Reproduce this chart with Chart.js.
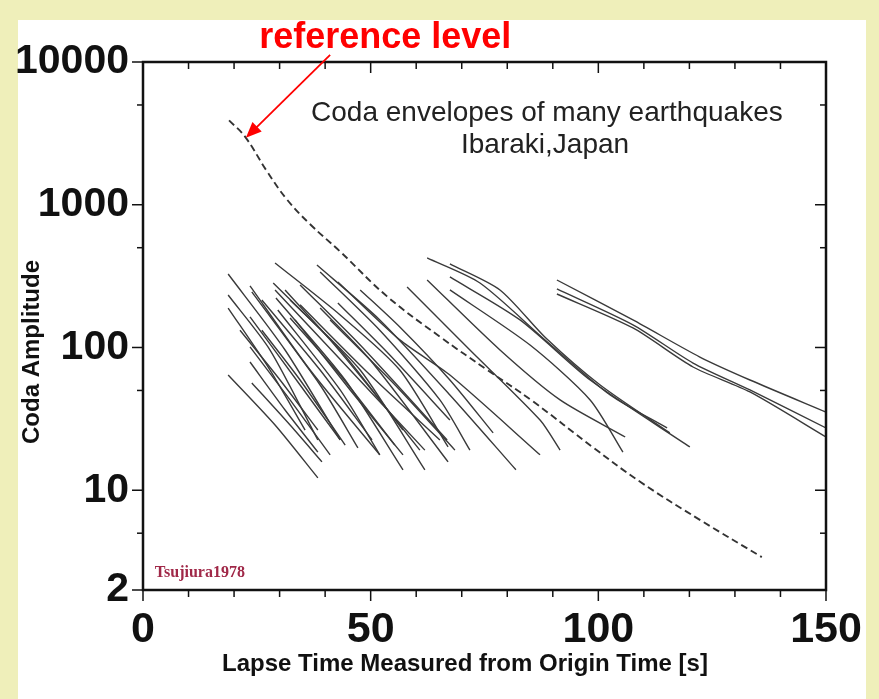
<!DOCTYPE html>
<html>
<head>
<meta charset="utf-8">
<script src="https://cdn.jsdelivr.net/npm/chart.js@4.4.1/dist/chart.umd.min.js"></script>
<style>
  html, body { margin: 0; padding: 0; }
  body { width: 879px; height: 699px; background: #efefba; position: relative; overflow: hidden; }
  #paper { position: absolute; left: 18px; top: 20px; right: 13px; bottom: 0; background: #fff; }
  #chart { position: absolute; left: 0; top: 0; }
</style>
</head>
<body>
<div id="paper"></div>
<canvas id="chart" width="879" height="699"></canvas>
<script>
// Axis ticks
const xTicks = [0, 10, 20, 30, 40, 50, 60, 70, 80, 90, 100, 110, 120, 130, 140, 150];
const xMajor = [0, 50, 100, 150];
const yTicks = [2, 5, 10, 50, 100, 500, 1000, 5000, 10000];
const yMajor = [2, 10, 100, 1000, 10000];

// Reference level (dashed), [lapse time s, amplitude]
const referenceLevel = [[18.9, 3900], [22.4, 3000], [27.2, 1720], [31.6, 1090], [36.7, 730], [43.3, 470],
    [53.6, 228], [65.2, 119], [75.5, 70], [85.6, 42], [98.8, 20], [109.1, 11.5], [122.3, 6.2], [135.9, 3.4]];

// Coda envelopes
const envA1 = [[18.7, 327], [31.2, 96], [43.3, 22.5]];
const envA2 = [[18.7, 233], [27.9, 96], [38.4, 22.5]];
const envA3 = [[18.7, 189], [27.9, 69.5], [35.6, 26.4]];
const envA4 = [[18.7, 64.1], [29.0, 28.6], [38.4, 12.2]];
const envA5 = [[21.3, 132], [30.1, 59.2], [38.4, 26.4]];
const envB1 = [[23.5, 270], [36.7, 69.5], [52.0, 17.7]];
const envB2 = [[23.9, 245], [38.9, 54.6], [47.2, 19.8]];
const envB3 = [[23.5, 164], [34.5, 54.6], [43.3, 22.5]];
const envB4 = [[23.5, 101], [32.3, 42.9], [41.1, 17.7]];
const envB5 = [[23.5, 79.1], [31.2, 36.5], [38.4, 18.5]];
const envB6 = [[23.9, 56.4], [32.3, 28.6], [39.3, 15.8]];
const envC1 = [[28.6, 283], [43.3, 96], [57.1, 26.4]];
const envC2 = [[29.0, 253], [45.5, 69.5], [61.9, 19.1]];
const envC3 = [[29.2, 222], [44.4, 59.2], [57.1, 13.9]];
const envC4 = [[29.6, 183], [43.3, 50.4], [52.0, 17.7]];
const envC5 = [[29.0, 391], [43.3, 169], [56.4, 69.5], [67.0, 20.1]];
const envC6 = [[32.3, 215], [47.7, 69.5], [61.9, 13.9]];
const envC7 = [[33.4, 156], [45.5, 50.4], [57.1, 17.7]];
const envC8 = [[31.2, 253], [41.1, 113], [52.0, 42.9], [60.8, 19.1]];
const envD1 = [[38.2, 378], [52.0, 156], [67.4, 46.5], [81.9, 13.9]];
const envD2 = [[38.9, 338], [52.0, 132], [65.2, 42.9], [71.8, 19.1]];
const envD3 = [[42.8, 288], [56.4, 113], [67.4, 64.1], [87.2, 17.7]];
const envD4 = [[42.8, 205], [54.2, 88.5], [67.4, 31.0]];
const envD5 = [[38.9, 189], [49.9, 81.7], [67.0, 15.8]];
const envD6 = [[34.5, 274], [47.7, 104], [60.8, 36.5], [66.8, 22.5]];
const envE1 = [[58.0, 265], [71.8, 96], [87.2, 31.0], [91.6, 19.1]];
const envE2 = [[62.4, 297], [78.4, 96], [91.6, 42.9], [105.9, 23.6]];
const envE3 = [[62.4, 424], [74.0, 283], [88.3, 113], [102.6, 46.5], [115.1, 27.3]];
const envE4 = [[67.4, 385], [78.4, 253], [88.3, 118], [100.4, 54.6], [115.7, 25.2]];
const envE5 = [[67.4, 312], [82.8, 156], [98.2, 59.2], [120.1, 20.1]];
const envE6 = [[67.4, 253], [85.0, 104], [98.2, 42.9], [105.4, 18.5]];
const envF1 = [[90.9, 297], [107.6, 156], [122.3, 85.7], [133.3, 59.2], [150, 35.3]];
const envF2 = [[90.9, 257], [107.6, 144], [120.8, 77.8], [133.3, 50.4], [150, 27.3]];
const envF3 = [[90.9, 237], [107.6, 137], [120.8, 73.0], [133.3, 48.8], [150, 23.6]];
const envG1 = [[26.1, 215], [38.9, 69.5], [50.3, 22.5]];
const envG2 = [[34.5, 199], [49.9, 64.1], [65.2, 22.5]];
const envG3 = [[41.1, 156], [56.4, 50.4], [68.5, 19.1]];
const envG4 = [[47.7, 253], [56.4, 139], [67.4, 59.2], [76.9, 25.2]];
const envG5 = [[26.1, 132], [34.5, 59.2], [44.4, 20.7]];
const envG6 = [[32.3, 161], [43.3, 64.1], [55.3, 20.7]];

const envelopes = [envA1, envA2, envA3, envA4, envA5, envB1, envB2, envB3, envB4, envB5, envB6,
    envC1, envC2, envC3, envC4, envC5, envC6, envC7, envC8, envD1, envD2, envD3, envD4, envD5, envD6,
    envE1, envE2, envE3, envE4, envE5, envE6, envF1, envF2, envF3,
    envG1, envG2, envG3, envG4, envG5, envG6];

const toPoints = arr => arr.map(p => ({ x: p[0], y: p[1] }));

const datasets = envelopes.map(env => ({
    data: toPoints(env),
    borderColor: '#3a3a3a',
    borderWidth: 1.4,
    tension: 0.25,
    pointRadius: 0
}));
datasets.push({
    data: toPoints(referenceLevel),
    borderColor: '#333',
    borderWidth: 1.9,
    borderDash: [7, 4],
    tension: 0.4,
    pointRadius: 0
});

// Frame, ticks, titles and annotations
const overlay = {
    id: 'overlay',
    afterDraw(chart) {
        const { ctx, chartArea: a, scales: { x, y } } = chart;
        const seg = (x1, y1, x2, y2) => { ctx.beginPath(); ctx.moveTo(x1, y1); ctx.lineTo(x2, y2); ctx.stroke(); };
        ctx.save();
        ctx.strokeStyle = '#111';
        ctx.lineWidth = 2.5;
        ctx.strokeRect(a.left, a.top, a.right - a.left, a.bottom - a.top);
        ctx.lineWidth = 1.5;
        xTicks.forEach(v => {
            const px = x.getPixelForValue(v);
            const len = xMajor.includes(v) ? 11 : 7;
            seg(px, a.bottom, px, a.bottom + len);
            seg(px, a.top, px, a.top + len);
        });
        yTicks.forEach(v => {
            const py = y.getPixelForValue(v);
            const len = yMajor.includes(v) ? 11 : 6;
            seg(a.left - len, py, a.left, py);
            seg(a.right - len, py, a.right, py);
        });

        // axis titles
        ctx.fillStyle = '#111';
        ctx.font = 'bold 24px "Liberation Sans", Arial, sans-serif';
        ctx.textAlign = 'center';
        ctx.textBaseline = 'middle';
        ctx.fillText('Lapse Time Measured from Origin Time [s]', 465, 664);
        ctx.save();
        ctx.translate(32, 352);
        ctx.rotate(-Math.PI / 2);
        ctx.fillText('Coda Amplitude', 0, 0);
        ctx.restore();

        // caption
        ctx.font = '28px "Liberation Sans", Arial, sans-serif';
        ctx.fillStyle = '#222';
        ctx.fillText('Coda envelopes of many earthquakes', x.getPixelForValue(88.7), y.getPixelForValue(4400));
        ctx.fillText('Ibaraki,Japan', x.getPixelForValue(88.3), y.getPixelForValue(2600));

        // source note
        ctx.font = 'bold 16px "Liberation Serif", "Times New Roman", serif';
        ctx.fillStyle = '#a02848';
        ctx.textAlign = 'left';
        ctx.fillText('Tsujiura1978', x.getPixelForValue(2.6), y.getPixelForValue(2.65));

        // reference level label and arrow
        ctx.font = 'bold 36px "Liberation Sans", Arial, sans-serif';
        ctx.fillStyle = '#f00';
        ctx.textAlign = 'center';
        ctx.fillText('reference level', x.getPixelForValue(53.2), y.getPixelForValue(14800));
        const tx = x.getPixelForValue(41.1), ty = y.getPixelForValue(11200);
        const hx = x.getPixelForValue(22.6), hy = y.getPixelForValue(2950);
        const ang = Math.atan2(hy - ty, hx - tx);
        ctx.strokeStyle = '#f00';
        ctx.lineWidth = 1.8;
        seg(tx, ty, hx - 12 * Math.cos(ang), hy - 12 * Math.sin(ang));
        ctx.beginPath();
        ctx.moveTo(hx, hy);
        ctx.lineTo(hx - 17 * Math.cos(ang - 0.4), hy - 17 * Math.sin(ang - 0.4));
        ctx.lineTo(hx - 17 * Math.cos(ang + 0.4), hy - 17 * Math.sin(ang + 0.4));
        ctx.closePath();
        ctx.fill();
        ctx.restore();
    }
};

const chart = new Chart(document.getElementById('chart'), {
    type: 'line',
    data: { datasets: datasets },
    options: {
        responsive: false,
        animation: false,
        devicePixelRatio: 1,
        layout: { padding: { left: 0, right: 53, top: 62, bottom: 0 } },
        plugins: { legend: { display: false }, tooltip: { enabled: false } },
        scales: {
            x: {
                type: 'linear',
                min: 0,
                max: 150,
                grid: { display: false },
                border: { display: false },
                afterBuildTicks: s => { s.ticks = xTicks.map(v => ({ value: v })); },
                afterFit: s => { s.height = 109; },
                ticks: {
                    autoSkip: false,
                    maxRotation: 0,
                    padding: 6,
                    color: '#111',
                    font: { family: '"Liberation Sans", Arial, sans-serif', weight: 'bold', size: 43 },
                    callback: v => xMajor.includes(v) ? String(v) : ''
                }
            },
            y: {
                type: 'logarithmic',
                min: 2,
                max: 10000,
                grid: { display: false },
                border: { display: false },
                afterBuildTicks: s => { s.ticks = yTicks.map(v => ({ value: v })); },
                afterFit: s => { s.width = 143; },
                ticks: {
                    autoSkip: false,
                    padding: 6,
                    color: '#111',
                    font: { family: '"Liberation Sans", Arial, sans-serif', weight: 'bold', size: 41 },
                    callback: v => yMajor.includes(v) ? String(v) : ''
                }
            }
        }
    },
    plugins: [overlay]
});
</script>
</body>
</html>
